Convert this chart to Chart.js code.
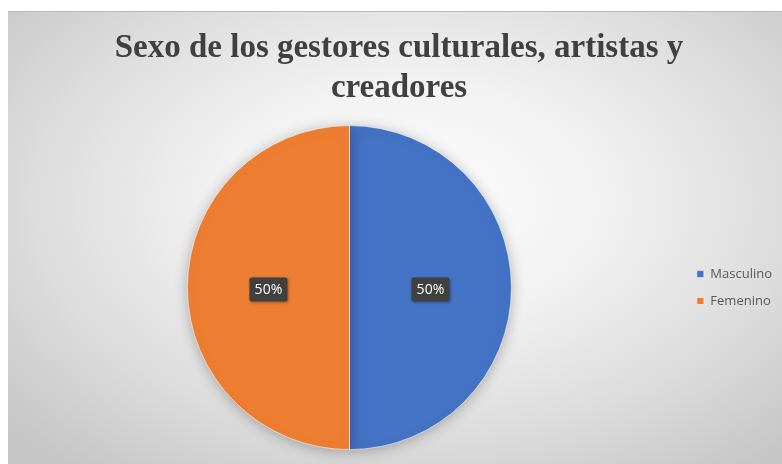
<!DOCTYPE html>
<html>
<head>
<meta charset="utf-8">
<script src="https://cdn.jsdelivr.net/npm/chart.js@4/dist/chart.umd.min.js"></script>
<style>
  html, body { margin: 0; padding: 0; background: #ffffff; }
  #wrap {
    position: absolute; left: 8px; top: 11px; width: 774px; height: 453px;
    background: radial-gradient(ellipse 70% 75% at 52% 42%, #fdfdfd 0%, #f2f2f2 35%, #dcdcdc 70%, #c6c6c6 100%);
    border-top: 1px solid #b9b9b9;
    box-sizing: border-box;
  }
  canvas { display: block; }
</style>
</head>
<body>
<div id="wrap"><canvas id="c" width="774" height="452"></canvas></div>
<script>
const titleLines = ["Sexo de los gestores culturales, artistas y", "creadores"];
const categories = ["Masculino", "Femenino"];
const values = [50, 50];
const colors = ["#4472C4", "#ED7D31"];

const shadowPlugin = {
  id: 'pieShadow',
  beforeDatasetsDraw(chart) {
    const ctx = chart.ctx;
    ctx.save();
    ctx.shadowColor = 'rgba(0,0,0,0.28)';
    ctx.shadowBlur = 14;
    ctx.shadowOffsetX = 0;
    ctx.shadowOffsetY = 2;
  },
  afterDatasetsDraw(chart) {
    chart.ctx.restore();
  }
};

const labelPlugin = {
  id: 'sliceLabels',
  afterDraw(chart) {
    const ctx = chart.ctx;
    const meta = chart.getDatasetMeta(0);
    const data = chart.data.datasets[0].data;
    const total = data.reduce((a, b) => a + b, 0);
    meta.data.forEach((arc, i) => {
      const p = arc.tooltipPosition();
      const txt = Math.round(data[i] / total * 100) + '%';
      ctx.save();
      ctx.font = '500 14px "Open Sans", sans-serif';
      const w = 38, h = 24;
      const x = p.x - w / 2, y = p.y + 2 - h / 2;
      ctx.shadowColor = 'rgba(0,0,0,0.35)';
      ctx.shadowBlur = 3;
      ctx.shadowOffsetX = 1;
      ctx.shadowOffsetY = 1;
      ctx.fillStyle = '#404040';
      ctx.beginPath();
      ctx.roundRect(x, y, w, h, 2);
      ctx.fill();
      ctx.shadowColor = 'transparent';
      ctx.fillStyle = '#ffffff';
      ctx.textAlign = 'center';
      ctx.textBaseline = 'middle';
      ctx.fillText(txt, p.x, p.y + 2);
      ctx.restore();
    });
  }
};

new Chart(document.getElementById('c'), {
  type: 'pie',
  data: {
    labels: categories,
    datasets: [{
      data: values,
      backgroundColor: colors,
      borderColor: 'rgba(255,255,255,0.55)',
      borderWidth: 1,
      hoverOffset: 0
    }]
  },
  options: {
    responsive: false,
    animation: false,
    devicePixelRatio: 1,
    radius: 162,
    layout: { padding: { left: 8, right: 0, top: 0, bottom: 11 } },
    plugins: {
      title: {
        display: true,
        text: titleLines,
        color: '#404040',
        font: { family: '"Liberation Serif", "Times New Roman", serif', size: 33, weight: 'bold', lineHeight: 1.2 },
        padding: { top: 17, bottom: 14 }
      },
      legend: {
        display: true,
        position: 'right',
        fullSize: false,
        labels: {
          color: '#595959',
          font: { family: '"Open Sans", sans-serif', size: 13 },
          boxWidth: 7,
          boxHeight: 7,
          padding: 14
        }
      },
      tooltip: { enabled: false }
    }
  },
  plugins: [shadowPlugin, labelPlugin]
});
</script>
</body>
</html>
